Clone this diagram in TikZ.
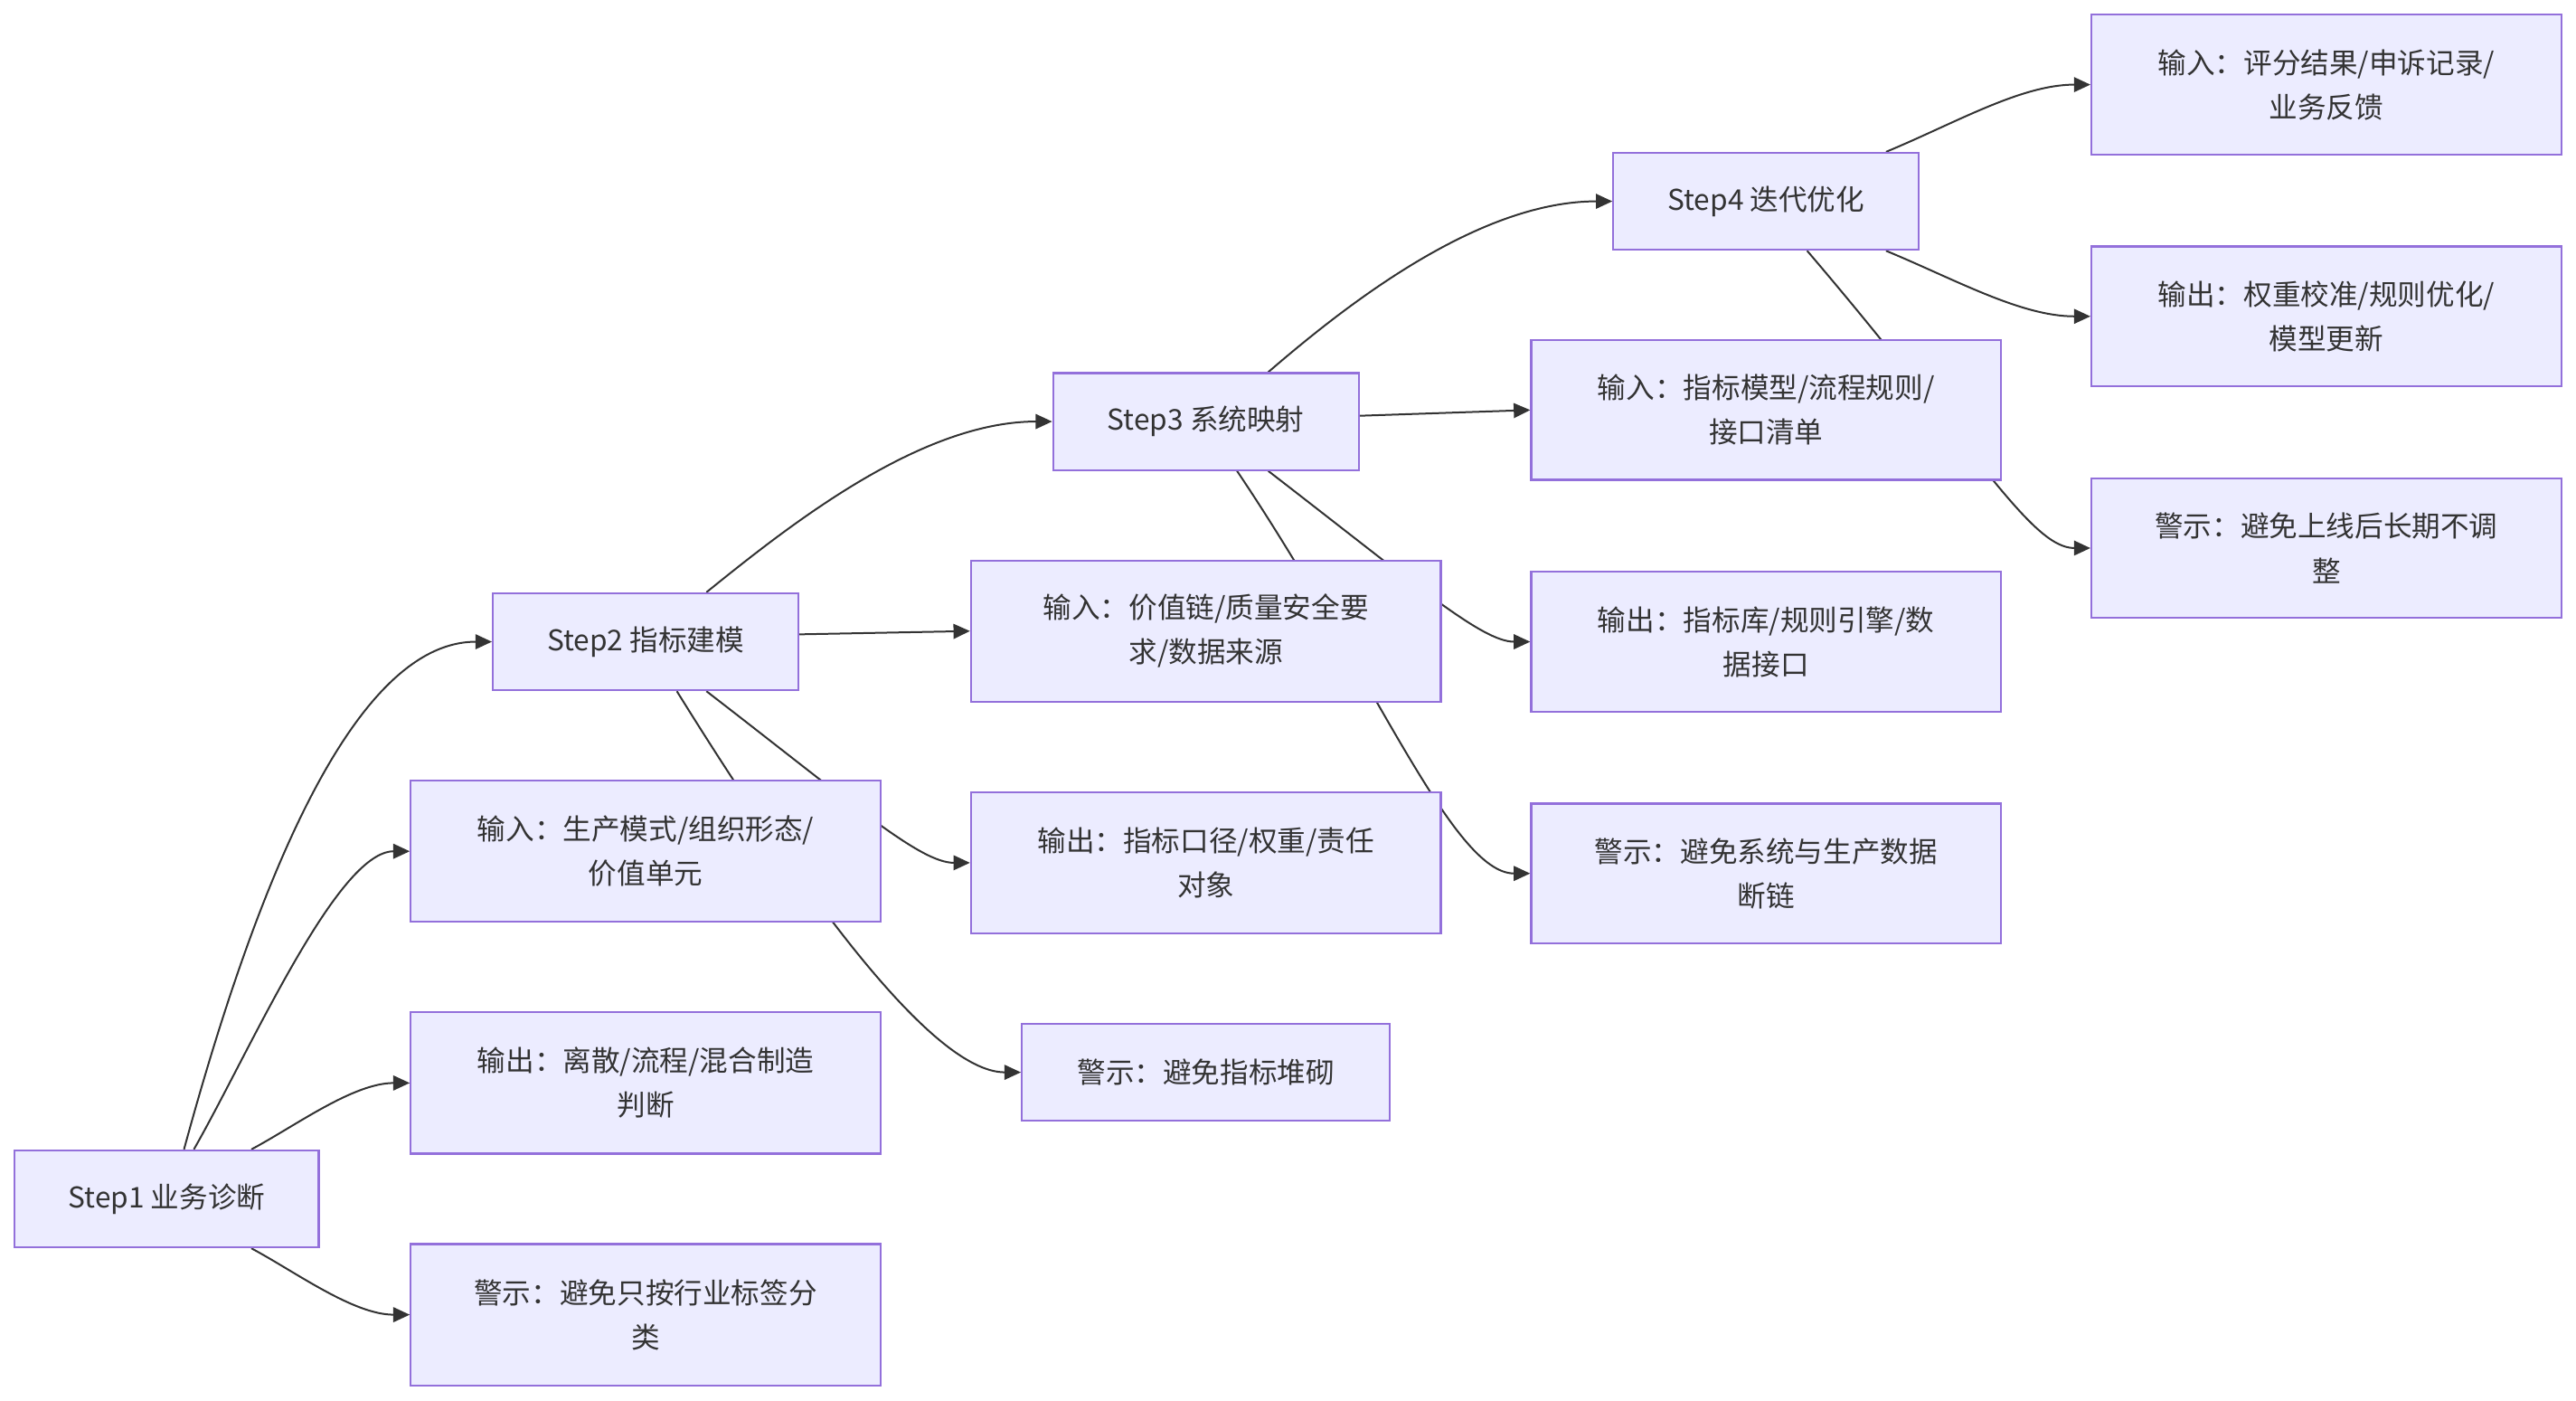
\documentclass[tikz,border=0pt]{standalone}
\usepackage{fontspec}
\newfontfamily\cjk{Noto Sans CJK SC}
\usetikzlibrary{arrows.meta}
\definecolor{boxfill}{HTML}{ECECFF}
\definecolor{boxline}{HTML}{9370DB}
\definecolor{edgec}{HTML}{333333}
\definecolor{txt}{HTML}{333333}
\pgfdeclarelayer{bgfill}
\pgfdeclarelayer{background}
\pgfsetlayers{bgfill,background,main}
\tikzset{
  box/.style={rectangle, fill=boxfill, draw=boxline, line width=1.2pt, inner sep=0pt,
    align=center, text=txt, font=\cjk\fontsize{17.4}{27}\selectfont,
    minimum width=286pt, minimum height=86pt},
  stepbox/.style={box, minimum width=186pt, minimum height=59pt},
  conn/.style={draw=edgec, line width=1.1pt, -{Triangle[length=10pt,width=9pt]}}
}
\begin{document}
\begin{tikzpicture}[x=1pt,y=-1pt]
\begin{pgfonlayer}{bgfill}
\fill[white] (0,0) rectangle (1568,852);
\end{pgfonlayer}
\useasboundingbox (0,0) rectangle (1568,852);
% Step 1
\node[stepbox, minimum width=185pt] (s1) at (101.5,729.5) {Step1 业务诊断};
\node[box] (i1) at (393,518) {输入：生产模式/组织形态/\\价值单元};
\node[box] (o1) at (393,659) {输出：离散/流程/混合制造\\判断};
\node[box] (w1) at (393,800) {警示：避免只按行业标签分\\类};
% Step 2
\node[stepbox] (s2) at (393,390.5) {Step2 指标建模};
\node[box] (i2) at (734,384) {输入：价值链/质量安全要\\求/数据来源};
\node[box] (o2) at (734,525) {输出：指标口径/权重/责任\\对象};
\node[box, minimum width=224pt, minimum height=59pt] (w2) at (734,652.5) {警示：避免指标堆砌};
% Step 3
\node[stepbox] (s3) at (734,256.5) {Step3 系统映射};
\node[box, minimum height=85pt] (i3) at (1075,249.5) {输入：指标模型/流程规则/\\接口清单};
\node[box, minimum height=85pt] (o3) at (1075,390.5) {输出：指标库/规则引擎/数\\据接口};
\node[box, minimum height=85pt] (w3) at (1075,531.5) {警示：避免系统与生产数据\\断链};
% Step 4
\node[stepbox] (s4) at (1075,122.5) {Step4 迭代优化};
\node[box, minimum height=85pt] (i4) at (1416,51.5) {输入：评分结果/申诉记录/\\业务反馈};
\node[box, minimum height=85pt] (o4) at (1416,192.5) {输出：权重校准/规则优化/\\模型更新};
\node[box, minimum height=85pt] (w4) at (1416,333.5) {警示：避免上线后长期不调\\整};

\begin{pgfonlayer}{background}
% from Step1
\draw[conn] ([xshift=10.5pt]s1.north) .. controls (150,560) and (210,390.5) .. (s2.west);
\draw[conn] ([xshift=16.5pt]s1.north) .. controls (152,640) and (205,518) .. (i1.west);
\draw[conn] ([xshift=51.5pt]s1.north) .. controls (180,685) and (215,659) .. (o1.west);
\draw[conn] ([xshift=51.5pt]s1.south) .. controls (180,774) and (215,800) .. (w1.west);
% from Step2
\draw[conn] ([yshift=4.5pt]s2.east) -- (i2.west);
\draw[conn] ([xshift=37pt]s2.north) .. controls (480,320) and (560,256.5) .. (s3.west);
\draw[conn] ([xshift=37pt]s2.south) .. controls (520,490) and (560,525) .. (o2.west);
\draw[conn] ([xshift=19pt]s2.south) .. controls (480,530) and (565,652.5) .. (w2.west);
% from Step3
\draw[conn] ([yshift=3.5pt]s3.east) -- (i3.west);
\draw[conn] ([xshift=38pt]s3.north) .. controls (820,185) and (900,122.5) .. (s4.west);
\draw[conn] ([xshift=38pt]s3.south) .. controls (862,356) and (902,390.5) .. (o3.west);
\draw[conn] ([xshift=19pt]s3.south) .. controls (836,410) and (884,531.5) .. (w3.west);
% from Step4
\draw[conn] ([xshift=73pt]s4.north) .. controls (1190,75) and (1230,51.5) .. (i4.west);
\draw[conn] ([xshift=73pt]s4.south) .. controls (1190,170) and (1230,192.5) .. (o4.west);
\draw[conn] ([xshift=25pt]s4.south) .. controls (1202,272) and (1236,333.5) .. (w4.west);
\end{pgfonlayer}
\end{tikzpicture}
\end{document}
